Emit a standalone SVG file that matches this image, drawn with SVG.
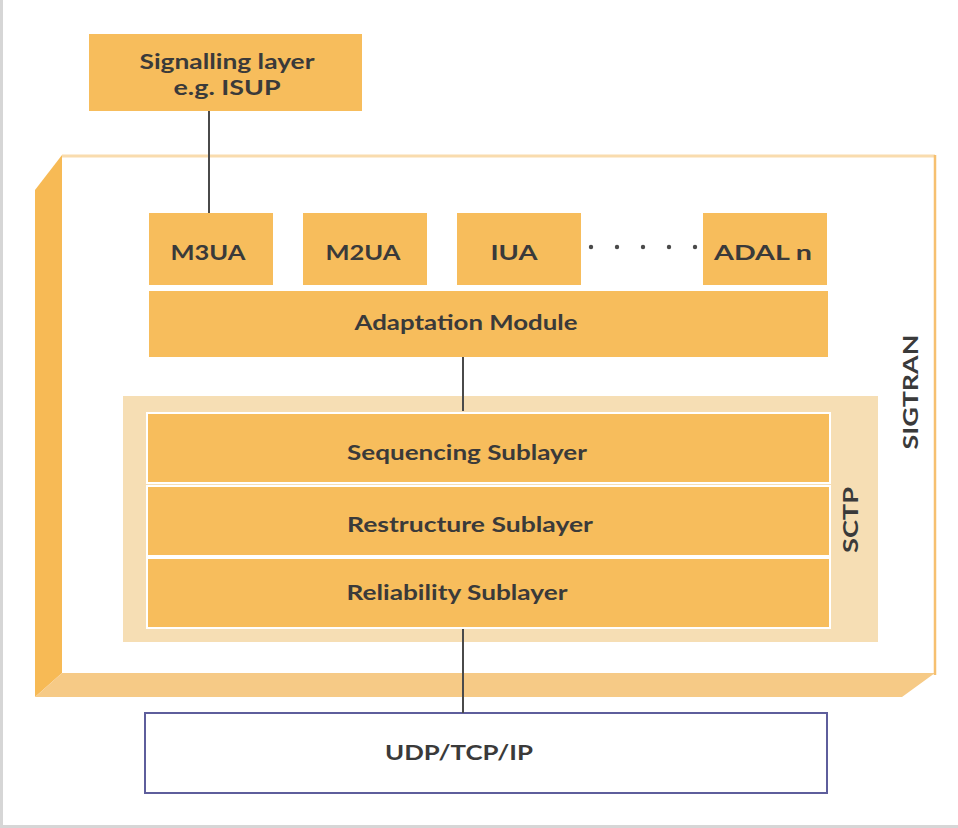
<svg xmlns="http://www.w3.org/2000/svg" width="958" height="828" viewBox="0 0 958 828">
<style>
.box{fill:#F7BD5C;}
.sub{fill:#F7BD5C;stroke:#FFFFFF;stroke-width:2;}
.lbl{font-family:Lato,"Liberation Sans",sans-serif;font-weight:bold;font-size:21px;fill:#3A3A3A;}
.conn{stroke:#4A4A4A;stroke-width:2;fill:none;}
</style>
<rect x="0" y="0" width="958" height="828" fill="#FFFFFF"/>
<rect x="0" y="0" width="3" height="828" fill="#D6D6D6"/>
<rect x="0" y="825" width="958" height="3" fill="#D6D6D6"/>

<g id="sigtran">
  <polygon points="62,155 35,190 35,697 62,673" fill="#F7BA55"/>
  <polygon points="35,697 62,673 935,673 902,697" fill="#F6CA86"/>
  <rect x="62" y="155" width="873" height="518" fill="#FFFFFF"/>
  <line x1="62" y1="156" x2="935" y2="156" stroke="#F9DCAE" stroke-width="3"/>
  <line x1="935" y1="155" x2="935" y2="675" stroke="#F6C070" stroke-width="2.5"/>
  <text class="lbl" transform="translate(918,392) rotate(-90)" text-anchor="middle" textLength="115" lengthAdjust="spacingAndGlyphs">SIGTRAN</text>
</g>

<g id="signalling">
  <rect class="box" x="89" y="34" width="273" height="77"/>
  <text class="lbl" x="227" y="69" text-anchor="middle" textLength="175" lengthAdjust="spacingAndGlyphs">Signalling layer</text>
  <text class="lbl" x="227" y="95" text-anchor="middle" textLength="107" lengthAdjust="spacingAndGlyphs">e.g. ISUP</text>
</g>

<g id="m3ua">
  <rect class="box" x="149" y="213" width="124" height="72"/>
  <text class="lbl" x="208" y="260" text-anchor="middle" textLength="75" lengthAdjust="spacingAndGlyphs">M3UA</text>
</g>
<g id="m2ua">
  <rect class="box" x="303" y="213" width="124" height="72"/>
  <text class="lbl" x="363" y="260" text-anchor="middle" textLength="75" lengthAdjust="spacingAndGlyphs">M2UA</text>
</g>
<g id="iua">
  <rect class="box" x="457" y="213" width="124" height="72"/>
  <text class="lbl" x="514" y="260" text-anchor="middle" textLength="47" lengthAdjust="spacingAndGlyphs">IUA</text>
</g>
<g id="dots" fill="#4A4A4A">
  <circle cx="591" cy="247" r="2.2"/>
  <circle cx="617" cy="247" r="2.2"/>
  <circle cx="643" cy="247" r="2.2"/>
  <circle cx="669" cy="247" r="2.2"/>
  <circle cx="695" cy="247" r="2.2"/>
</g>
<g id="adaln">
  <rect class="box" x="703" y="213" width="124" height="72"/>
  <text class="lbl" x="763" y="260" text-anchor="middle" textLength="98" lengthAdjust="spacingAndGlyphs">ADAL n</text>
</g>

<g id="adaptation">
  <rect class="box" x="149" y="291" width="679" height="66"/>
  <text class="lbl" x="466" y="330" text-anchor="middle" textLength="223" lengthAdjust="spacingAndGlyphs">Adaptation Module</text>
</g>

<g id="sctp">
  <rect x="123" y="396" width="755" height="246" fill="#F6DEB4"/>
  <text class="lbl" transform="translate(858,520) rotate(-90)" text-anchor="middle" textLength="66" lengthAdjust="spacingAndGlyphs">SCTP</text>
</g>
<g id="sequencing">
  <rect class="sub" x="147" y="413" width="683" height="70"/>
  <text class="lbl" x="467" y="460" text-anchor="middle" textLength="240" lengthAdjust="spacingAndGlyphs">Sequencing Sublayer</text>
</g>
<g id="restructure">
  <rect class="sub" x="147" y="486" width="683" height="70"/>
  <text class="lbl" x="470" y="532" text-anchor="middle" textLength="246" lengthAdjust="spacingAndGlyphs">Restructure Sublayer</text>
</g>
<g id="reliability">
  <rect class="sub" x="147" y="558" width="683" height="70"/>
  <text class="lbl" x="457" y="600" text-anchor="middle" textLength="221" lengthAdjust="spacingAndGlyphs">Reliability Sublayer</text>
</g>

<g id="udp">
  <rect x="145" y="713" width="682" height="80" fill="#FFFFFF" stroke="#5E5E9C" stroke-width="2"/>
  <text class="lbl" x="459" y="760" text-anchor="middle" textLength="148" lengthAdjust="spacingAndGlyphs">UDP/TCP/IP</text>
</g>

<g id="connectors">
  <line class="conn" x1="209" y1="111" x2="209" y2="213"/>
  <line class="conn" x1="463" y1="357" x2="463" y2="411"/>
  <line class="conn" x1="463" y1="629" x2="463" y2="713"/>
</g>
</svg>
